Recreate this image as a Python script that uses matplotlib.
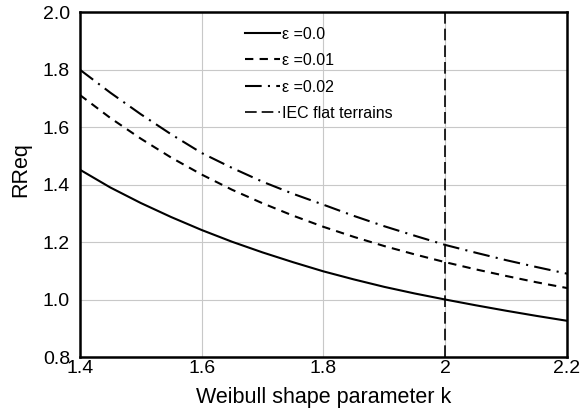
import matplotlib
matplotlib.use("Agg")
import matplotlib.pyplot as plt

plt.rcParams['font.family'] = ['Liberation Sans', 'DejaVu Sans']

# Weibull shape parameter k
k = [1.4, 1.45, 1.5, 1.55, 1.6, 1.65, 1.7, 1.75, 1.8, 1.85, 1.9, 1.95, 2.0, 2.05, 2.1, 2.15, 2.2]
rreq_e000 = [1.452, 1.390, 1.336, 1.287, 1.242, 1.201, 1.164, 1.130, 1.098, 1.070, 1.044, 1.021,
             1.000, 0.980, 0.961, 0.943, 0.926]
rreq_e001 = [1.712, 1.632, 1.560, 1.494, 1.435, 1.382, 1.335, 1.292, 1.253, 1.218, 1.186, 1.157,
             1.130, 1.105, 1.082, 1.060, 1.040]
rreq_e002 = [1.800, 1.720, 1.645, 1.575, 1.510, 1.458, 1.410, 1.368, 1.330, 1.291, 1.255, 1.222,
             1.190, 1.163, 1.137, 1.113, 1.090]
k_iec = 2.0

fig = plt.figure(figsize=(5.87, 4.2), dpi=100)
ax = fig.add_axes([0.136, 0.15, 0.830, 0.821])

ax.plot(k, rreq_e000, color='black', lw=1.5, label=r'ε =0.0')
ax.plot(k, rreq_e001, color='black', lw=1.5, ls=(0, (4, 3)), label=r'ε =0.01')
ax.plot(k, rreq_e002, color='black', lw=1.5, ls=(0, (8, 3, 1, 3)), label=r'ε =0.02')
ax.axvline(k_iec, color='black', lw=1.2, ls=(0, (7, 3)), label='IEC flat terrains')

ax.set_xlim(1.4, 2.2)
ax.set_ylim(0.8, 2.0)
ax.set_xticks([1.4, 1.6, 1.8, 2.0, 2.2])
ax.set_xticklabels(['1.4', '1.6', '1.8', '2', '2.2'])
ax.set_yticks([0.8, 1.0, 1.2, 1.4, 1.6, 1.8, 2.0])
ax.set_yticklabels(['0.8', '1.0', '1.2', '1.4', '1.6', '1.8', '2.0'])
ax.tick_params(length=0, labelsize=14)
ax.tick_params(axis='x', pad=2)
ax.tick_params(axis='y', pad=7)
ax.grid(color='#c8c8c8', lw=0.8)
ax.set_axisbelow(True)
for s in ax.spines.values():
    s.set_linewidth(1.8)

ax.set_xlabel('Weibull shape parameter k', fontsize=15.5, labelpad=7)
ax.set_ylabel('RReq', fontsize=15.5)
ax.yaxis.set_label_coords(-0.099, 0.545)

ax.legend(loc='upper center', bbox_to_anchor=(0.49, 1.0), frameon=False, fontsize=11.5,
          handlelength=2.2, handletextpad=0.1, labelspacing=0.72)

fig.savefig('out.png', dpi=100)
